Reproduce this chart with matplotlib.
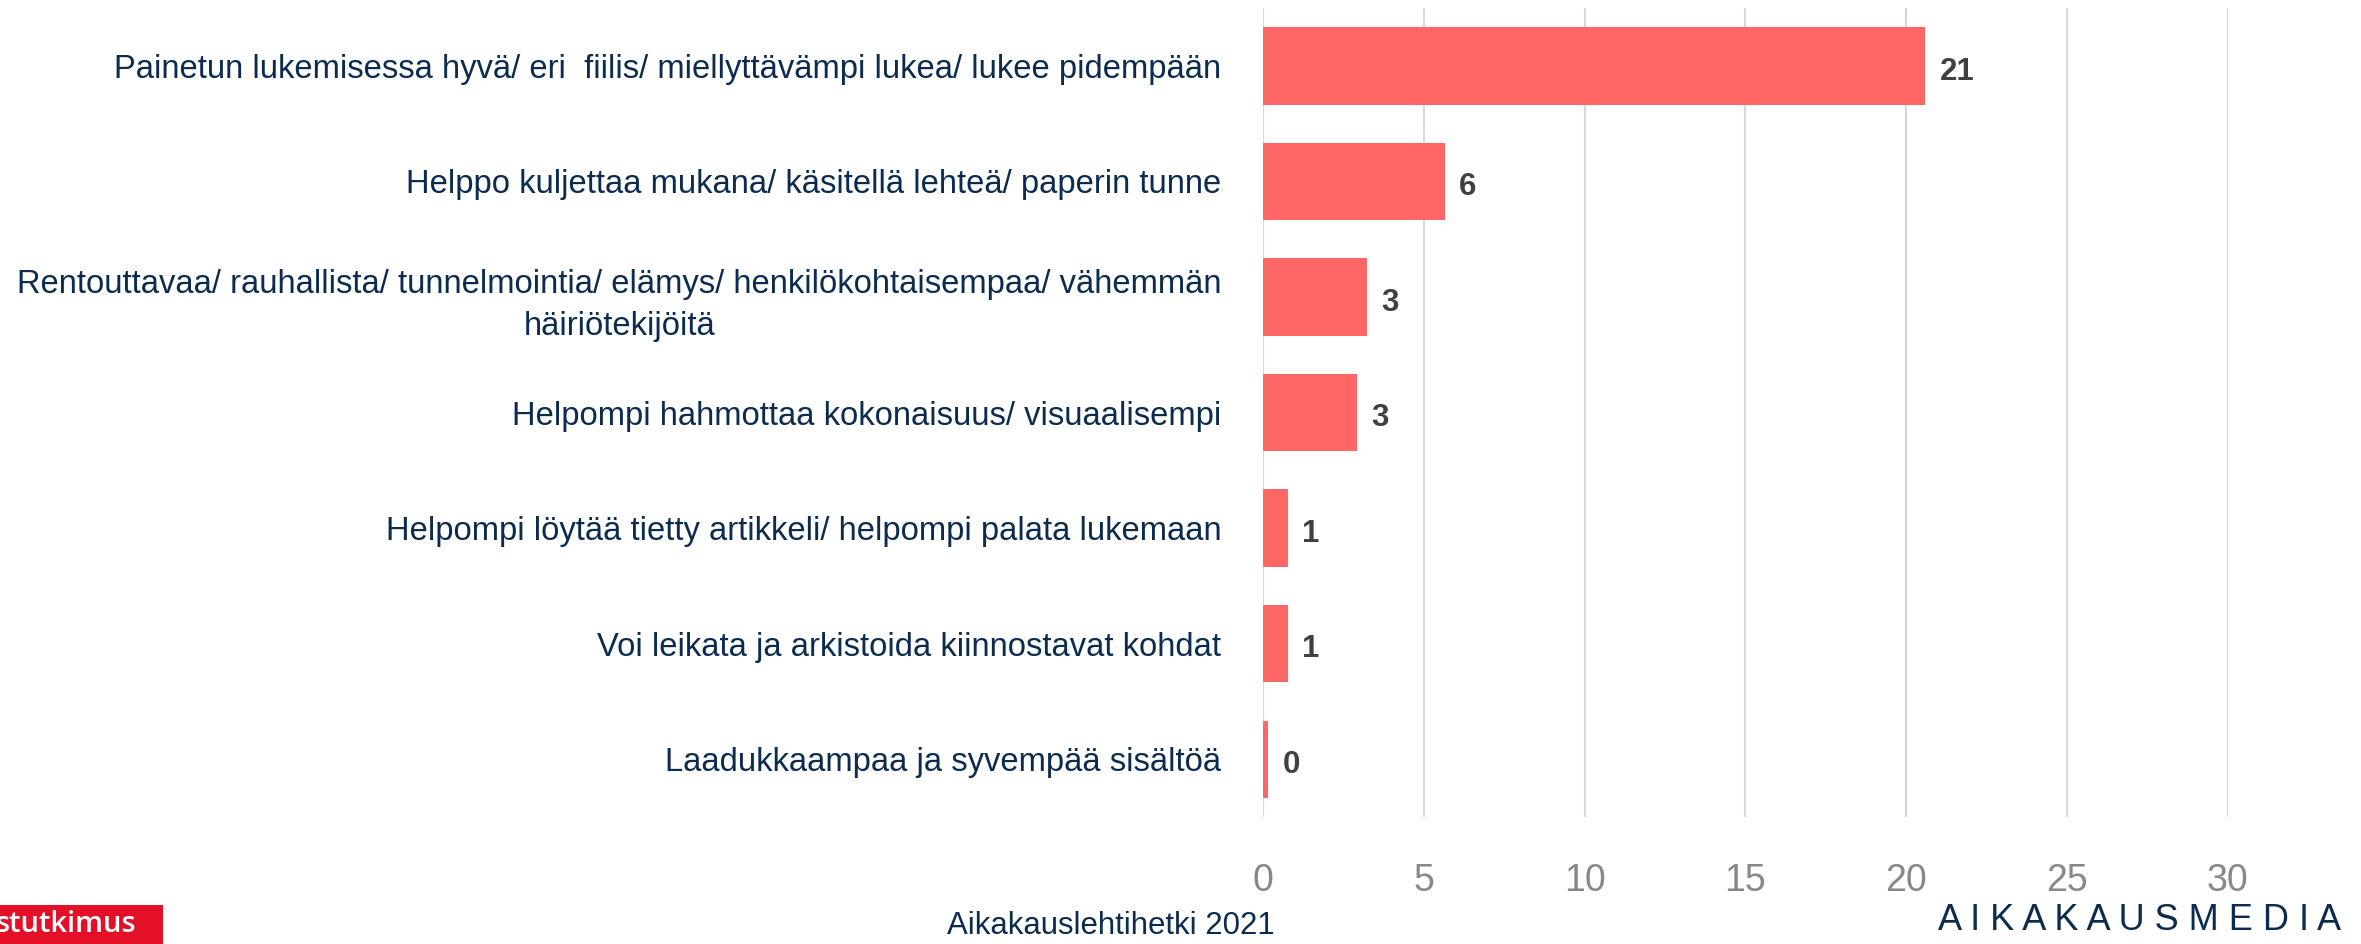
import matplotlib.pyplot as plt

# Data
categories = [
    "Painetun lukemisessa hyvä/ eri  fiilis/ miellyttävämpi lukea/ lukee pidempään",
    "Helppo kuljettaa mukana/ käsitellä lehteä/ paperin tunne",
    "Rentouttavaa/ rauhallista/ tunnelmointia/ elämys/ henkilökohtaisempaa/ vähemmän\nhäiriötekijöitä",
    "Helpompi hahmottaa kokonaisuus/ visuaalisempi",
    "Helpompi löytää tietty artikkeli/ helpompi palata lukemaan",
    "Voi leikata ja arkistoida kiinnostavat kohdat",
    "Laadukkaampaa ja syvempää sisältöä",
]
values = [20.6, 5.65, 3.23, 2.92, 0.77, 0.77, 0.15]
x_ticks = [0, 5, 10, 15, 20, 25, 30]

plt.rcParams['font.family'] = ['Liberation Sans', 'DejaVu Sans']

navy = '#0c2b4e'
bar_color = '#ff6666'

fig = plt.figure(figsize=(23.61, 9.44), dpi=100)
ax = fig.add_axes([0.535, 0.1345, 0.4085, 0.857])

pos = list(range(len(categories)))
ax.barh(pos, values, height=0.67, color=bar_color, zorder=3)

# Value labels
for p, v in zip(pos, values):
    ax.text(v + 0.45, p + 0.05, f"{v:.0f}", va='center', ha='left',
            fontsize=22.5, fontweight='bold', color='#404040')

ax.set_ylim(6.5, -0.5)
ax.set_xlim(0, 30)
ax.set_yticks(pos)
ax.set_yticklabels(categories, fontsize=23.6, color=navy, linespacing=1.45)
for lbl in ax.get_yticklabels():
    lbl.set_multialignment('center')
ax.set_xticks(x_ticks)
ax.set_xticklabels([str(t) for t in x_ticks], fontsize=27, color='#888888')
ax.tick_params(axis='y', length=0, pad=30)
ax.tick_params(axis='x', length=0, pad=33)

ax.grid(axis='x', color='#d9d9d9', linewidth=1.6, zorder=0)
for s in ax.spines.values():
    s.set_visible(False)

# Footer texts
fig.text(1111 / 2361, 3 / 944, "Aikakauslehtihetki 2021", ha='center', va='bottom',
         fontsize=22.4, color=navy)
fig.text(2140 / 2361, 1 - 921 / 944, "A I K A K A U S M E D I A", ha='center', va='center',
         fontsize=26, color=navy)
fig.patches.append(plt.Rectangle((0, 0), 163 / 2361, 39 / 944, transform=fig.transFigure,
                                 facecolor='#e31028', edgecolor='none'))
fig.text(-0.002, 1 - 925 / 944, "stutkimus", ha='left', va='center',
         fontsize=21, color='white', family='Open Sans', fontweight='semibold')

fig.savefig('out.png', dpi=100)
